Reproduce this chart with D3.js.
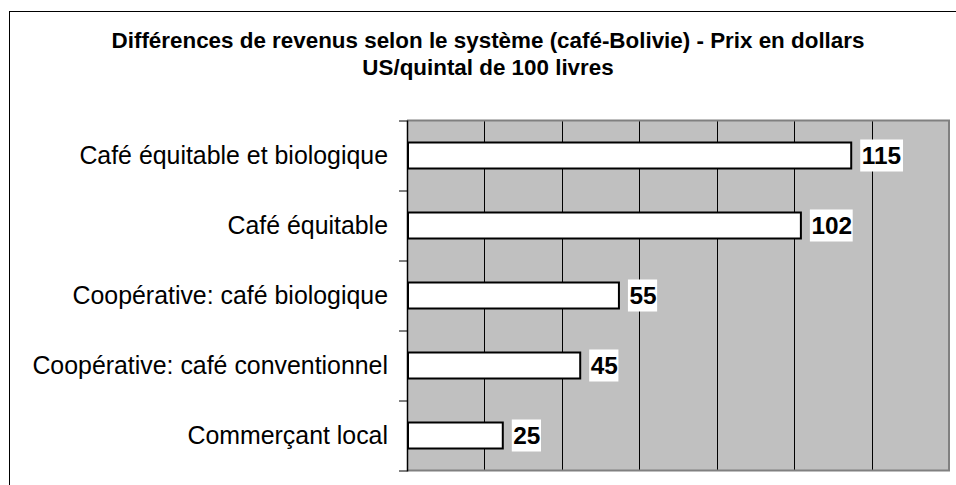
<!DOCTYPE html>
<html>
<head>
<meta charset="utf-8">
<script src="https://cdn.jsdelivr.net/npm/d3@7"></script>
<style>
  html, body { margin: 0; padding: 0; background: #fff; }
  svg { display: block; }
  text { font-family: "Liberation Sans", Arial, sans-serif; }
</style>
</head>
<body>
<svg id="chart" width="956" height="485"></svg>
<script>
const titleLines = [
  "Différences de revenus selon le système (café-Bolivie) - Prix en dollars",
  "US/quintal de 100 livres"
];
const categories = [
  "Café équitable et biologique",
  "Café équitable",
  "Coopérative: café biologique",
  "Coopérative: café conventionnel",
  "Commerçant local"
];
const values = [115, 102, 55, 45, 25];
const xTicks = [0, 20, 40, 60, 80, 100, 120, 140];

const svg = d3.select("#chart");

// outer chart border
svg.append("rect")
  .attr("x", 9.5).attr("y", 11.5)
  .attr("width", 1000).attr("height", 600)
  .attr("fill", "#fff").attr("stroke", "#000").attr("stroke-width", 1);

// title
const title = svg.append("text")
  .attr("text-anchor", "middle")
  .attr("font-weight", "bold")
  .attr("font-size", "22.4px")
  .attr("fill", "#000");
titleLines.forEach((t, i) => {
  title.append("tspan").attr("x", 488).attr("y", 47.5 + i * 27).text(t);
});

const plot = { left: 407, right: 949, top: 120.5, bottom: 470.5 };

const x = d3.scaleLinear().domain([0, 140]).range([plot.left, plot.right]);
const y = d3.scaleBand().domain(categories).range([plot.top, plot.bottom])
  .paddingInner(0.6).paddingOuter(0.3);

// plot background
svg.append("rect")
  .attr("x", plot.left).attr("y", plot.top)
  .attr("width", plot.right - plot.left).attr("height", plot.bottom - plot.top)
  .attr("fill", "#c0c0c0");

// vertical gridlines
svg.append("g").selectAll("line")
  .data(xTicks.slice(1, -1))
  .join("line")
  .attr("x1", d => Math.round(x(d)) + 0.5).attr("x2", d => Math.round(x(d)) + 0.5)
  .attr("y1", plot.top).attr("y2", plot.bottom)
  .attr("stroke", "#000").attr("stroke-width", 1);

// plot border (gray top/right/bottom)
svg.append("path")
  .attr("d", `M${plot.left},${plot.top}H${plot.right}V${plot.bottom}H${plot.left}`)
  .attr("fill", "none").attr("stroke", "#808080").attr("stroke-width", 2);

// y axis with outward ticks at band boundaries
const yAxis = svg.append("g");
yAxis.append("line")
  .attr("x1", plot.left + 0.5).attr("x2", plot.left + 0.5)
  .attr("y1", plot.top).attr("y2", plot.bottom + 1)
  .attr("stroke", "#000").attr("stroke-width", 1.5);
yAxis.selectAll("line.tick")
  .data(d3.range(categories.length + 1))
  .join("line").attr("class", "tick")
  .attr("x1", plot.left - 8).attr("x2", plot.left)
  .attr("y1", i => plot.top + i * y.step() + 0.5)
  .attr("y2", i => plot.top + i * y.step() + 0.5)
  .attr("stroke", "#000").attr("stroke-width", 1);

// category labels
svg.append("g").selectAll("text")
  .data(categories)
  .join("text")
  .attr("x", plot.left - 19)
  .attr("y", d => y(d) + y.bandwidth() / 2 + 8.5)
  .attr("text-anchor", "end")
  .attr("font-size", "24.9px")
  .attr("fill", "#000")
  .text(d => d);

// bars
svg.append("g").selectAll("rect")
  .data(values)
  .join("rect")
  .attr("x", plot.left + 1)
  .attr("y", (d, i) => y(categories[i]) + 1)
  .attr("width", d => x(d) - plot.left - 2)
  .attr("height", y.bandwidth() - 2)
  .attr("fill", "#fff").attr("stroke", "#000").attr("stroke-width", 2);

// value labels with white boxes
const lbl = svg.append("g").selectAll("g")
  .data(values)
  .join("g");
lbl.append("rect")
  .attr("x", d => x(d) + 8)
  .attr("y", (d, i) => y(categories[i]) + y.bandwidth() / 2 - 16)
  .attr("width", d => String(d).length * 13.6 + 2)
  .attr("height", 32)
  .attr("fill", "#fff");
lbl.append("text")
  .attr("x", d => x(d) + 9.5)
  .attr("y", (d, i) => y(categories[i]) + y.bandwidth() / 2 + 8.5)
  .attr("font-size", "24.4px")
  .attr("font-weight", "bold")
  .attr("fill", "#000")
  .text(d => d);
</script>
</body>
</html>
